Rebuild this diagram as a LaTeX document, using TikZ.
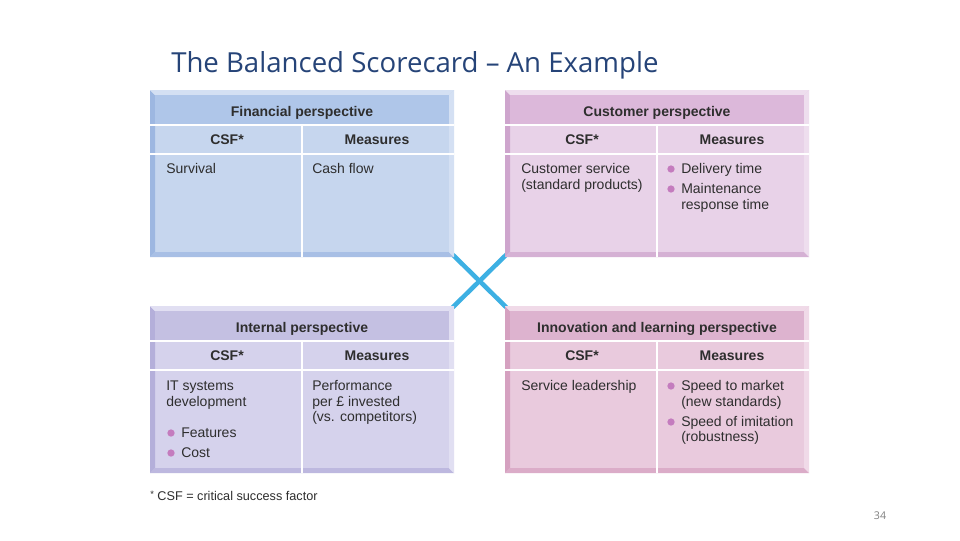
\documentclass[tikz,border=0pt]{standalone}
\usepackage{fontspec}
\setmainfont{Liberation Sans}
\newfontfamily\titlef{Open Sans}
\definecolor{txtc}{HTML}{2E2E2E}
\definecolor{titlec}{HTML}{264478}
\definecolor{crossc}{HTML}{3DB0E3}
\definecolor{bulc}{HTML}{C47CBE}
% financial
\definecolor{finB}{HTML}{C6D6EE}\definecolor{finH}{HTML}{AFC6E9}
\definecolor{finD}{HTML}{8FACDD}\definecolor{finL}{HTML}{DAE5F5}
% customer
\definecolor{cusB}{HTML}{E8D2E8}\definecolor{cusH}{HTML}{DCB8DA}
\definecolor{cusD}{HTML}{C596C4}\definecolor{cusL}{HTML}{F1E3F1}
% internal
\definecolor{intB}{HTML}{D5D2EC}\definecolor{intH}{HTML}{C4C0E2}
\definecolor{intD}{HTML}{A9A3D4}\definecolor{intL}{HTML}{E6E4F5}
% innovation
\definecolor{innB}{HTML}{E9CADD}\definecolor{innH}{HTML}{DDB3CF}
\definecolor{innD}{HTML}{CF93B6}\definecolor{innL}{HTML}{F3E1EC}
\newcommand\bevquad[4]{% #1 name, #2 body, #3 header, #4 dark, light = #1L
  \node[quadbox, fill=#2] (#1) at (152,83.5) {};
  \fill[#4!75!#2] (0,0)--(5,5)--(5,162)--(0,167)--cycle;
  \fill[#4!55!#2] (0,167)--(5,162)--(299,162)--(304,167)--cycle;
  \fill[#1L!70!#2] (0,0)--(304,0)--(299,5)--(5,5)--cycle;
  \fill[#1L!70!#2] (304,0)--(304,167)--(299,162)--(299,5)--cycle;
  \fill[#3] (5,5) rectangle (299,34);
  \draw[sepline] (0,34.5)--(304,34.5);
  \draw[sepline] (0,63.5)--(304,63.5);
  \draw[sepline] (152,35)--(152,167);
}
\begin{document}
\begin{tikzpicture}[x=0.75pt,y=-0.75pt,
  quadbox/.style={draw=none, minimum width=228pt, minimum height=125.25pt, inner sep=0pt},
  sepline/.style={draw=white, line width=1.5pt},
  txt/.style={font=\fontsize{10.5}{12}\selectfont, text=txtc, inner sep=0pt, anchor=base west},
  hd/.style={font=\bfseries\fontsize{10.5}{12}\selectfont, text=txtc, inner sep=0pt, anchor=base},
  bul/.style={circle, fill=bulc, inner sep=0pt, minimum size=5.5pt},
  crossline/.style={draw=crossc, line width=3.4pt}
]
\useasboundingbox (0,0) rectangle (960,540);
\fill[white] (0,0) rectangle (960,540);

\node[font=\titlef\fontsize{20.7}{24}\selectfont, text=titlec, anchor=base west, inner sep=0pt] (title) at (171,72) {The Balanced Scorecard – An Example};

% cross (drawn first, under boxes)
\coordinate (c1) at (451,253);
\coordinate (c2) at (508,309);
\coordinate (c3) at (508,253);
\coordinate (c4) at (451,309);
\draw[crossline] (c1) -- (c2);
\draw[crossline] (c3) -- (c4);

% Financial
\begin{scope}[shift={(150,90)}]
\bevquad{fin}{finB}{finH}{finD}
\node[hd] (finT) at (152,26) {Financial perspective};
\node[hd] (finC) at (77,54) {CSF*};
\node[hd] (finM) at (227,54) {Measures};
\node[txt] (finc1) at (16,83) {Survival};
\node[txt] (finm1) at (162,83) {Cash flow};
\end{scope}

% Customer
\begin{scope}[shift={(505,90)}]
\bevquad{cus}{cusB}{cusH}{cusD}
\node[hd] (cusT) at (152,26) {Customer perspective};
\node[hd] (cusC) at (77,54) {CSF*};
\node[hd] (cusM) at (227,54) {Measures};
\node[txt] (cusc1) at (16,83) {Customer service};
\node[txt] (cusc2) at (16,99) {(standard products)};
\node[bul] (cusb1) at (166,79) {};
\node[txt] (cusm1) at (176,83) {Delivery time};
\node[bul] (cusb2) at (166,99) {};
\node[txt] (cusm2) at (176,103) {Maintenance};
\node[txt] (cusm3) at (176,119) {response time};
\end{scope}

% Internal
\begin{scope}[shift={(150,306)}]
\bevquad{int}{intB}{intH}{intD}
\node[hd] (intT) at (152,26) {Internal perspective};
\node[hd] (intC) at (77,54) {CSF*};
\node[hd] (intM) at (227,54) {Measures};
\node[txt] (intc1) at (16,84) {IT systems};
\node[txt] (intc2) at (16,100) {development};
\node[bul] (intb1) at (21,127) {};
\node[txt] (intc3) at (31,131) {Features};
\node[bul] (intb2) at (21,147) {};
\node[txt] (intc4) at (31,151) {Cost};
\node[txt] (intm1) at (162,84) {Performance};
\node[txt] (intm2) at (162,100) {per £ invested};
\node[txt] (intm3) at (162,115) {(vs. competitors)};
\end{scope}

% Innovation
\begin{scope}[shift={(505,306)}]
\bevquad{inn}{innB}{innH}{innD}
\node[hd] (innT) at (152,26) {Innovation and learning perspective};
\node[hd] (innC) at (77,54) {CSF*};
\node[hd] (innM) at (227,54) {Measures};
\node[txt] (innc1) at (16,84) {Service leadership};
\node[bul] (innb1) at (166,80) {};
\node[txt] (innm1) at (176,84) {Speed to market};
\node[txt] (innm2) at (176,100) {(new standards)};
\node[bul] (innb2) at (166,116) {};
\node[txt] (innm3) at (176,120) {Speed of imitation};
\node[txt] (innm4) at (176,135) {(robustness)};
\end{scope}

% footnote
\node[txt, font=\fontsize{9.5}{11}\selectfont] (foot) at (150,500) {\raisebox{0.35ex}{\scriptsize*} CSF = critical success factor};

\node[font=\titlef\fontsize{8}{9}\selectfont, text=gray, anchor=base, inner sep=0pt] (pnum) at (880,519) {34};
\end{tikzpicture}
\end{document}
